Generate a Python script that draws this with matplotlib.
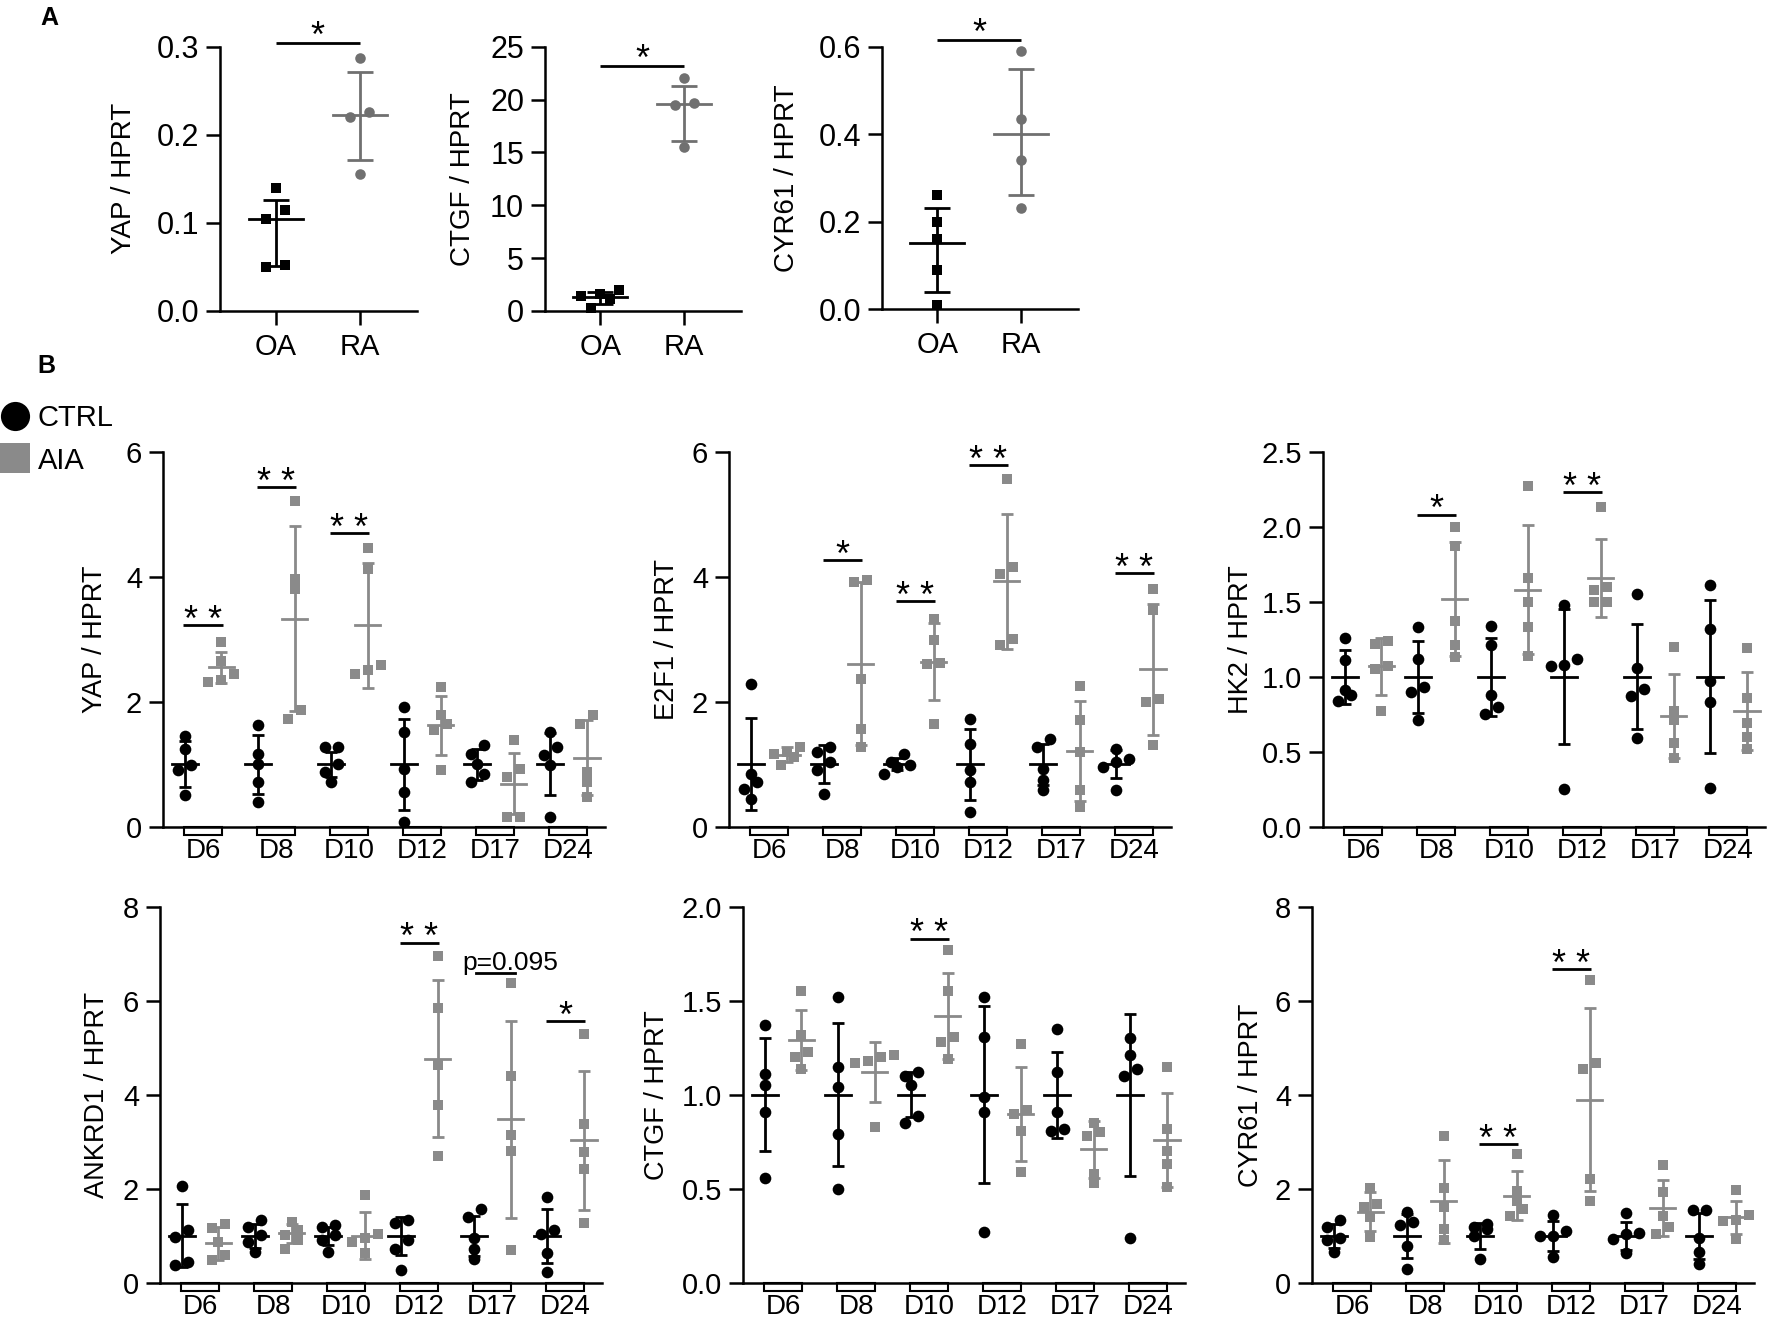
import numpy as np
import matplotlib.pyplot as plt
import matplotlib.transforms as mtransforms
from matplotlib.patches import Rectangle
from matplotlib.lines import Line2D

plt.rcParams['font.family'] = ['Liberation Sans', 'DejaVu Sans']

# ---------------- data ----------------
days = ['D6', 'D8', 'D10', 'D12', 'D17', 'D24']
a_groups = ['OA', 'RA']

# panel A : points, then [median, low, high] per group
a_yap_oa = [0.14, 0.115, 0.104, 0.052, 0.05]
a_yap_ra = [0.287, 0.226, 0.22, 0.156]
a_yap_stats = [[0.104, 0.051, 0.126], [0.222, 0.171, 0.271]]
a_ctgf_oa = [1.95, 1.6, 1.4, 1.15, 0.3]
a_ctgf_ra = [22.0, 19.7, 19.5, 15.5]
a_ctgf_stats = [[1.3, 0.7, 1.8], [19.6, 16.1, 21.3]]
a_cyr_oa = [0.26, 0.2, 0.16, 0.09, 0.01]
a_cyr_ra = [0.59, 0.435, 0.34, 0.23]
a_cyr_stats = [[0.15, 0.04, 0.23], [0.40, 0.26, 0.55]]
a_sig = [0.304, 23.2, 0.615]

# panel B : YAP
yap_ctrl = [[1.45, 1.25, 0.98, 0.9, 0.5], [1.63, 1.17, 1.01, 0.72, 0.4], [1.28, 1.28, 1.01, 0.88, 0.72],
            [1.92, 1.52, 0.93, 0.56, 0.08], [1.31, 1.17, 1.01, 0.85, 0.72], [1.52, 1.28, 1.15, 0.99, 0.16]]
yap_ctrl_mean = [1.0, 1.0, 1.0, 1.0, 1.0, 1.0]
yap_ctrl_sd = [0.37, 0.47, 0.2, 0.73, 0.25, 0.5]
yap_aia = [[2.95, 2.65, 2.45, 2.35, 2.32], [5.21, 3.97, 3.81, 1.86, 1.72], [4.46, 4.13, 2.58, 2.5, 2.45],
           [2.23, 1.79, 1.65, 1.55, 0.91], [1.39, 0.93, 0.8, 0.16, 0.16], [1.79, 1.65, 0.88, 0.72, 0.48]]
yap_aia_mean = [2.55, 3.33, 3.22, 1.62, 0.69, 1.1]
yap_aia_sd = [0.25, 1.48, 1.0, 0.47, 0.49, 0.6]
yap_sig = [('D6', 3.22, '**'), ('D8', 5.43, '**'), ('D10', 4.7, '**')]

# E2F1
e2f1_ctrl = [[2.29, 0.85, 0.72, 0.61, 0.45], [1.28, 1.2, 1.04, 0.91, 0.53], [1.17, 1.04, 0.99, 0.96, 0.85],
             [1.73, 1.33, 0.91, 0.72, 0.24], [1.41, 1.28, 0.93, 0.75, 0.59], [1.25, 1.09, 1.04, 0.96, 0.59]]
e2f1_ctrl_mean = [1.0, 1.0, 1.0, 1.0, 1.0, 1.0]
e2f1_ctrl_sd = [0.74, 0.3, 0.1, 0.57, 0.33, 0.22]
e2f1_aia = [[1.28, 1.2, 1.17, 1.12, 0.99], [3.95, 3.91, 2.36, 1.57, 1.28], [3.33, 2.99, 2.62, 2.6, 1.65],
            [5.57, 4.15, 4.05, 3.01, 2.9], [2.25, 1.71, 1.2, 0.59, 0.32], [3.81, 3.46, 2.05, 2.0, 1.31]]
e2f1_aia_mean = [1.15, 2.61, 2.64, 3.93, 1.21, 2.52]
e2f1_aia_sd = [0.12, 1.3, 0.62, 1.08, 0.8, 1.05]
e2f1_sig = [('D8', 4.26, '*'), ('D10', 3.61, '**'), ('D12', 5.78, '**'), ('D24', 4.06, '**')]

# HK2
hk2_ctrl = [[1.26, 1.11, 0.91, 0.88, 0.84], [1.33, 1.12, 0.93, 0.9, 0.71], [1.34, 1.21, 0.88, 0.8, 0.75],
            [1.48, 1.12, 1.08, 1.07, 0.25], [1.55, 1.06, 0.92, 0.87, 0.59], [1.61, 1.32, 0.97, 0.83, 0.26]]
hk2_ctrl_mean = [1.0, 1.0, 1.0, 1.0, 1.0, 1.0]
hk2_ctrl_sd = [0.18, 0.24, 0.26, 0.45, 0.35, 0.51]
hk2_aia = [[1.24, 1.22, 1.07, 1.05, 0.77], [2.0, 1.87, 1.37, 1.21, 1.13], [2.27, 1.66, 1.5, 1.33, 1.14],
           [2.13, 1.6, 1.58, 1.5, 1.5], [1.2, 0.77, 0.71, 0.56, 0.46], [1.19, 0.86, 0.69, 0.6, 0.52]]
hk2_aia_mean = [1.07, 1.52, 1.58, 1.66, 0.74, 0.77]
hk2_aia_sd = [0.19, 0.38, 0.43, 0.26, 0.28, 0.26]
hk2_sig = [('D8', 2.08, '*'), ('D12', 2.23, '**')]

# ANKRD1
ank_ctrl = [[2.07, 1.12, 0.97, 0.45, 0.38], [1.34, 1.19, 1.02, 0.88, 0.66], [1.23, 1.19, 1.02, 0.91, 0.66],
            [1.34, 1.28, 0.91, 0.73, 0.28], [1.58, 1.41, 0.95, 0.73, 0.52], [1.83, 1.12, 1.05, 0.63, 0.24]]
ank_ctrl_mean = [1.0, 1.0, 1.0, 1.0, 1.0, 1.0]
ank_ctrl_sd = [0.67, 0.25, 0.2, 0.4, 0.43, 0.57]
ank_aia = [[1.26, 1.17, 0.88, 0.59, 0.49], [1.3, 1.12, 1.02, 0.91, 0.73], [1.87, 1.05, 0.95, 0.88, 0.63],
           [6.95, 5.84, 4.63, 3.78, 2.7], [6.38, 4.4, 3.14, 2.81, 0.7], [5.29, 3.37, 2.78, 2.43, 1.28]]
ank_aia_mean = [0.84, 1.06, 1.0, 4.77, 3.48, 3.03]
ank_aia_sd = [0.35, 0.2, 0.5, 1.67, 2.1, 1.48]
ank_sig = [('D12', 7.23, '**'), ('D17', 6.6, 'p=0.095'), ('D24', 5.56, '*')]

# CTGF
ctgf_ctrl = [[1.37, 1.11, 1.05, 0.91, 0.56], [1.52, 1.15, 1.04, 0.79, 0.5], [1.12, 1.1, 1.05, 0.89, 0.85],
             [1.52, 1.31, 0.99, 0.91, 0.27], [1.35, 1.12, 0.91, 0.82, 0.81], [1.3, 1.21, 1.14, 1.1, 0.24]]
ctgf_ctrl_mean = [1.0, 1.0, 1.0, 1.0, 1.0, 1.0]
ctgf_ctrl_sd = [0.3, 0.38, 0.12, 0.47, 0.23, 0.43]
ctgf_aia = [[1.55, 1.32, 1.23, 1.2, 1.14], [1.21, 1.2, 1.18, 1.17, 0.83], [1.77, 1.55, 1.31, 1.28, 1.19],
            [1.27, 0.92, 0.9, 0.81, 0.59], [0.85, 0.8, 0.78, 0.58, 0.53], [1.15, 0.82, 0.7, 0.63, 0.51]]
ctgf_aia_mean = [1.29, 1.12, 1.42, 0.9, 0.71, 0.76]
ctgf_aia_sd = [0.16, 0.16, 0.23, 0.25, 0.15, 0.25]
ctgf_sig = [('D10', 1.83, '**')]

# CYR61
cyr_ctrl = [[1.34, 1.2, 0.95, 0.92, 0.65], [1.52, 1.29, 1.23, 0.78, 0.3], [1.25, 1.2, 1.15, 1.0, 0.52],
            [1.44, 1.11, 1.0, 0.99, 0.55], [1.49, 1.06, 1.04, 0.93, 0.64], [1.56, 1.56, 0.95, 0.65, 0.4]]
cyr_ctrl_mean = [1.0, 1.0, 1.0, 1.0, 1.0, 1.0]
cyr_ctrl_sd = [0.25, 0.47, 0.27, 0.32, 0.3, 0.48]
cyr_aia = [[2.03, 1.68, 1.61, 1.4, 0.97], [3.13, 2.03, 1.61, 1.15, 0.92], [2.74, 1.96, 1.75, 1.57, 1.43],
           [6.44, 4.68, 4.55, 2.21, 1.75], [2.51, 1.94, 1.43, 1.2, 1.04], [1.98, 1.44, 1.34, 1.32, 0.93]]
cyr_aia_mean = [1.52, 1.74, 1.86, 3.9, 1.59, 1.4]
cyr_aia_sd = [0.42, 0.88, 0.52, 1.94, 0.6, 0.35]
cyr_sig = [('D10', 2.95, '**'), ('D12', 6.67, '**')]

# ---------------- drawing ----------------
W, H = 1772, 1322
fig = plt.figure(figsize=(W / 100, H / 100), dpi=100)
grey_a = '#707070'
grey_b = '#8a8a8a'


def add_ax(left, top, width, bottom):
    return fig.add_axes([left / W, 1 - bottom / H, width / W, (bottom - top) / H])


def spread(vals, ypx, xpx, gap, thresh):
    # put points of about the same height side by side
    vals = np.asarray(vals, dtype=float)
    order = np.argsort(vals)
    offs = np.zeros(len(vals))
    rows = []
    for i in order:
        if rows and (vals[i] - vals[rows[-1][0]]) * ypx < thresh:
            rows[-1].append(i)
        else:
            rows.append([i])
    for row in rows:
        k = len(row)
        for j, i in enumerate(row):
            offs[i] = (j - (k - 1) / 2) * gap / xpx
    return offs


def style(ax, size):
    for s in ['top', 'right']:
        ax.spines[s].set_visible(False)
    for s in ['left', 'bottom']:
        ax.spines[s].set_linewidth(1.8)
    ax.tick_params(axis='y', length=10, width=1.8, pad=5, labelsize=size)


def yticks(ax, ymax, step, dec):
    t = np.arange(0, ymax + step / 2, step)
    ax.set_ylim(0, ymax)
    ax.set_yticks(t)
    ax.set_yticklabels([f'{v:.{dec}f}' for v in t])


def stars(ax, x0, x1, y, txt, size=26, dy=-4):
    ax.plot([x0, x1], [y, y], color='black', lw=2, clip_on=False, solid_capstyle='butt')
    ax.annotate(' '.join(txt), ((x0 + x1) / 2, y), xytext=(0, dy), textcoords='offset points',
                ha='center', va='baseline', fontsize=size, annotation_clip=False)


def panel_a(ax, oa, ra, st, ymax, step, dec, ylabel, lab_x, sig):
    style(ax, 22)
    ypx = 264 / ymax
    for i, (vals, col, mk, ms) in enumerate([(oa, 'black', 's', 7.4), (ra, grey_a, 'o', 7.6)]):
        v = np.array(vals)
        ax.plot(i + spread(v, ypx, 84, 19, 10), v, ls='none', marker=mk, ms=ms, color=col, mew=0,
                clip_on=False, zorder=3)
        m, lo, hi = st[i]
        ax.errorbar(i, m, yerr=[[m - lo], [hi - m]], fmt='none', ecolor=col, elinewidth=2,
                    capsize=9.5, capthick=2, zorder=4)
        ax.plot([i - 0.32, i + 0.32], [m, m], color=col, lw=2, zorder=4)
    ax.set_xlim(-0.66, 1.68)
    yticks(ax, ymax, step, dec)
    ax.set_xticks([0, 1])
    ax.set_xticklabels(a_groups)
    ax.tick_params(axis='x', length=10, width=1.8, pad=6, labelsize=21)
    ax.set_ylabel(ylabel, fontsize=20)
    ax.yaxis.set_label_coords(lab_x, 0.5)
    stars(ax, 0, 1, sig, '*', dy=-3)


def panel_b(ax, ctrl, ctrl_m, ctrl_sd, aia, aia_m, aia_sd, ymax, step, dec, ylabel, lab_x, sigs):
    style(ax, 21)
    x = np.arange(len(days))
    ypx = 375 / ymax
    for i in range(len(days)):
        for vals, m, sd, xc, col, mk, ms in [(ctrl[i], ctrl_m[i], ctrl_sd[i], x[i] - 0.25, 'black', 'o', 8.4),
                                             (aia[i], aia_m[i], aia_sd[i], x[i] + 0.25, grey_b, 's', 7.9)]:
            v = np.array(vals)
            ax.plot(xc + spread(v, ypx, 73, 13, 9), v, ls='none', marker=mk, ms=ms, color=col, mew=0,
                    clip_on=False, zorder=3)
            ax.errorbar(xc, m, yerr=sd, fmt='none', ecolor=col, elinewidth=2, capsize=4.5,
                        capthick=2, zorder=4)
            ax.plot([xc - 0.175, xc + 0.175], [m, m], color=col, lw=2, zorder=4)
    trans = mtransforms.blended_transform_factory(ax.transData, ax.transAxes)
    for xi in x:
        ax.add_patch(Rectangle((xi - 0.26, -0.021), 0.52, 0.021, transform=trans, fill=False,
                               lw=1.5, ec='black', clip_on=False))
    ax.set_xlim(-0.55, 5.5)
    yticks(ax, ymax, step, dec)
    ax.set_xticks(x)
    ax.set_xticklabels(days)
    ax.tick_params(axis='x', length=0, pad=8, labelsize=20)
    ax.set_ylabel(ylabel, fontsize=19.5)
    ax.yaxis.set_label_coords(lab_x, 0.5)
    for g, yv, txt in sigs:
        gi = days.index(g)
        if txt.startswith('p'):
            ax.plot([gi - 0.23, gi + 0.31], [yv, yv], color='black', lw=2, clip_on=False)
            ax.annotate(txt, (gi + 0.24, yv), xytext=(0, 2), textcoords='offset points',
                        ha='center', va='baseline', fontsize=19, annotation_clip=False)
        else:
            stars(ax, gi - 0.27, gi + 0.27, yv, txt)


# panel A
ax = add_ax(220, 46.7, 197, 311)
panel_a(ax, a_yap_oa, a_yap_ra, a_yap_stats, 0.3, 0.1, 1, 'YAP / HPRT', -0.42, a_sig[0])
ax = add_ax(545, 46.7, 196, 311)
panel_a(ax, a_ctgf_oa, a_ctgf_ra, a_ctgf_stats, 25, 5, 0, 'CTGF / HPRT', -0.35, a_sig[1])
ax = add_ax(882, 46.7, 196, 309)
panel_a(ax, a_cyr_oa, a_cyr_ra, a_cyr_stats, 0.6, 0.2, 1, 'CYR61 / HPRT', -0.42, a_sig[2])

# panel B
ax = add_ax(163, 451.7, 442, 826.7)
panel_b(ax, yap_ctrl, yap_ctrl_mean, yap_ctrl_sd, yap_aia, yap_aia_mean, yap_aia_sd,
        6, 2, 0, 'YAP / HPRT', -0.125, yap_sig)
ax = add_ax(729, 451.7, 442, 826.7)
panel_b(ax, e2f1_ctrl, e2f1_ctrl_mean, e2f1_ctrl_sd, e2f1_aia, e2f1_aia_mean, e2f1_aia_sd,
        6, 2, 0, 'E2F1 / HPRT', -0.111, e2f1_sig)
ax = add_ax(1323, 451.7, 442, 826.7)
panel_b(ax, hk2_ctrl, hk2_ctrl_mean, hk2_ctrl_sd, hk2_aia, hk2_aia_mean, hk2_aia_sd,
        2.5, 0.5, 1, 'HK2 / HPRT', -0.156, hk2_sig)
ax = add_ax(160, 906.7, 442, 1283)
panel_b(ax, ank_ctrl, ank_ctrl_mean, ank_ctrl_sd, ank_aia, ank_aia_mean, ank_aia_sd,
        8, 2, 0, 'ANKRD1 / HPRT', -0.113, ank_sig)
ax = add_ax(743, 906.7, 442, 1283)
panel_b(ax, ctgf_ctrl, ctgf_ctrl_mean, ctgf_ctrl_sd, ctgf_aia, ctgf_aia_mean, ctgf_aia_sd,
        2.0, 0.5, 1, 'CTGF / HPRT', -0.165, ctgf_sig)
ax = add_ax(1312, 906.7, 442, 1283)
panel_b(ax, cyr_ctrl, cyr_ctrl_mean, cyr_ctrl_sd, cyr_aia, cyr_aia_mean, cyr_aia_sd,
        8, 2, 0, 'CYR61 / HPRT', -0.109, cyr_sig)

# panel letters and legend
fig.text(40 / W, 1 - 25 / H, 'A', fontsize=18, fontweight='bold', va='baseline')
fig.text(37 / W, 1 - 373 / H, 'B', fontsize=18, fontweight='bold', va='baseline')
handles = [Line2D([], [], ls='none', marker='o', ms=21, color='black', mew=0),
           Line2D([], [], ls='none', marker='s', ms=21, color=grey_b, mew=0)]
fig.legend(handles, ['CTRL', 'AIA'], loc='upper left', bbox_to_anchor=(0, 1 - 404 / H),
           frameon=False, fontsize=21, handlelength=1.0, handletextpad=0.3,
           labelspacing=0.5, borderpad=0, borderaxespad=0)

fig.savefig('out.png', dpi=100)
